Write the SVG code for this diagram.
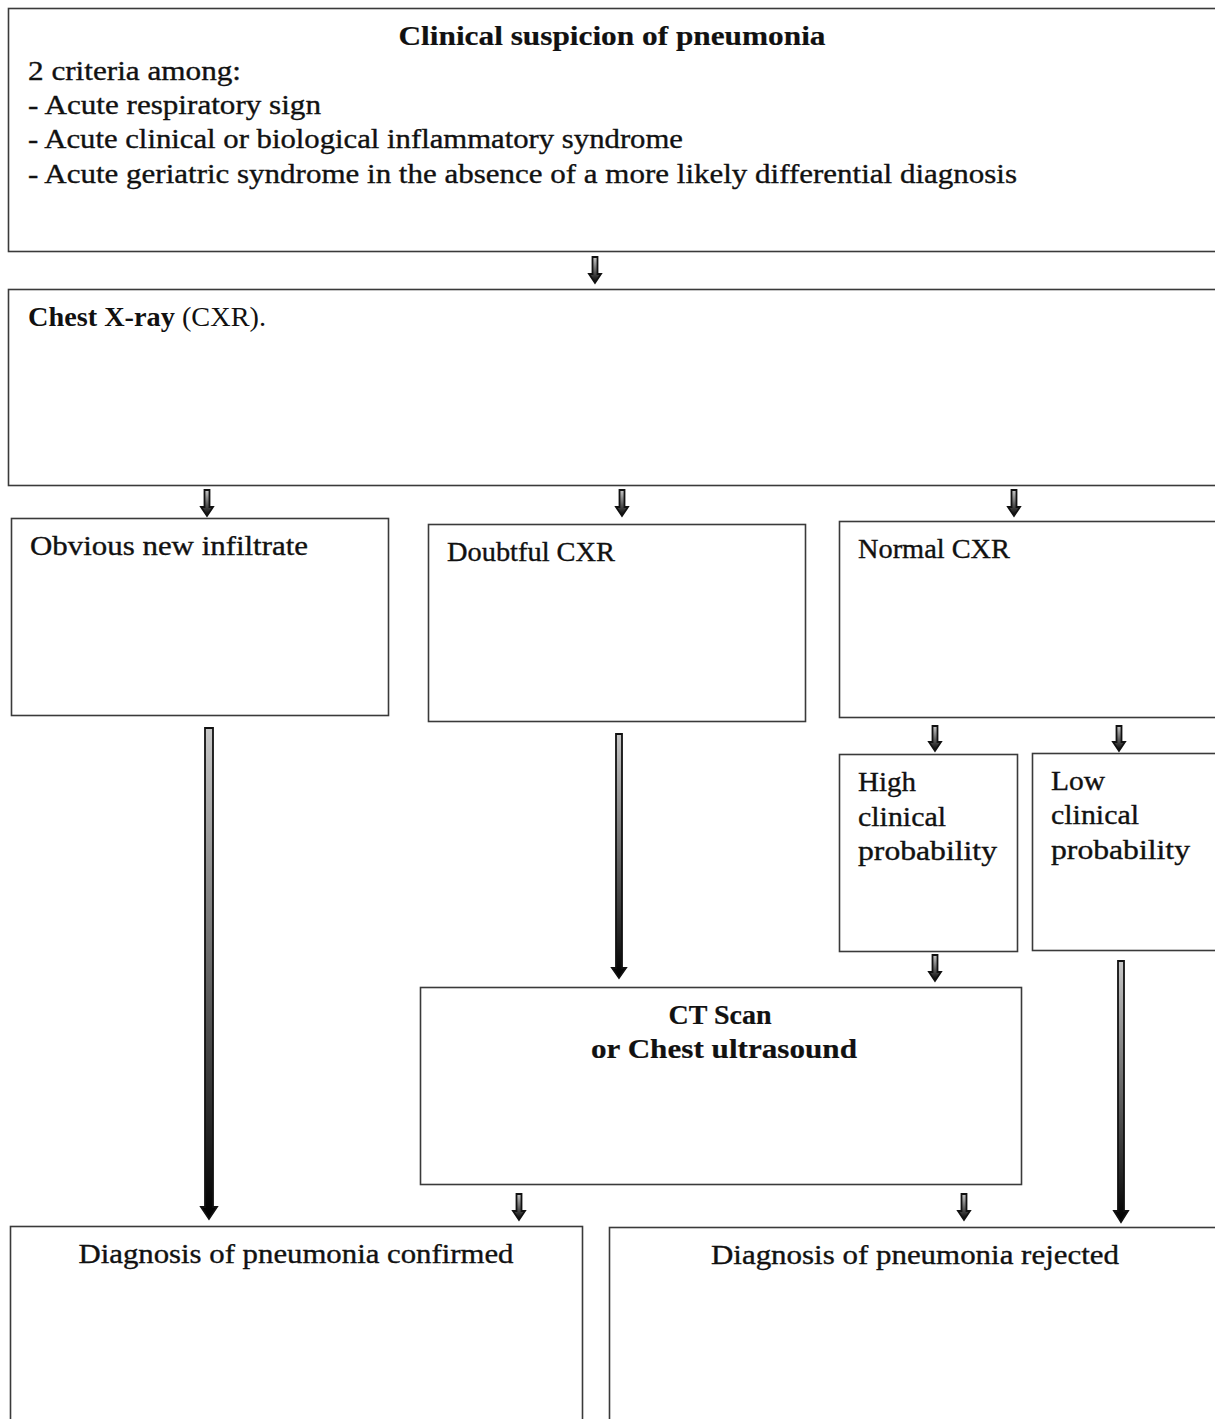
<svg xmlns="http://www.w3.org/2000/svg" width="1215" height="1419" viewBox="0 0 1215 1419">
<defs>
<linearGradient id="ag" x1="0" y1="0" x2="0" y2="1">
<stop offset="0" stop-color="#c8c8c8"/>
<stop offset="1" stop-color="#000"/>
</linearGradient>
<style>
.box{fill:#fff;stroke:#3a3a3a;stroke-width:1.6}
.t{font-family:"Liberation Serif","DejaVu Serif",serif;font-size:27px;fill:#111;stroke:#111;stroke-width:0.35}
.b{font-weight:bold;stroke-width:0.2}
.tm{font-family:"Liberation Serif",serif;font-size:28px;fill:#111}
.arr{fill:url(#ag);stroke:#111;stroke-width:1.8;stroke-linejoin:miter}
</style>
</defs>
<rect width="1215" height="1419" fill="#fff"/>

<g id="n-suspicion">
<rect class="box" x="8.5" y="8.5" width="1210" height="243"/>
<text class="t b" x="612" y="45" text-anchor="middle" textLength="427" lengthAdjust="spacingAndGlyphs">Clinical suspicion of pneumonia</text>
<text class="t" x="28" y="80" textLength="213" lengthAdjust="spacingAndGlyphs">2 criteria among:</text>
<text class="t" x="28" y="114" textLength="293" lengthAdjust="spacingAndGlyphs">- Acute respiratory sign</text>
<text class="t" x="28" y="148" textLength="655" lengthAdjust="spacingAndGlyphs">- Acute clinical or biological inflammatory syndrome</text>
<text class="t" x="28" y="183" textLength="989" lengthAdjust="spacingAndGlyphs">- Acute geriatric syndrome in the absence of a more likely differential diagnosis</text>
</g>

<g id="n-cxr">
<rect class="box" x="8.5" y="289.5" width="1210" height="196"/>
<text class="tm" x="28" y="326" textLength="238" lengthAdjust="spacingAndGlyphs"><tspan font-weight="bold">Chest X-ray</tspan> (CXR).</text>
</g>

<g id="n-obvious">
<rect class="box" x="11.5" y="518.5" width="377" height="197"/>
<text class="t" x="30" y="555" textLength="278" lengthAdjust="spacingAndGlyphs">Obvious new infiltrate</text>
</g>

<g id="n-doubtful">
<rect class="box" x="428.5" y="524.5" width="377" height="197"/>
<text class="t" x="447" y="561" textLength="168" lengthAdjust="spacingAndGlyphs">Doubtful CXR</text>
</g>

<g id="n-normal">
<rect class="box" x="839.5" y="521.5" width="380" height="196"/>
<text class="t" x="858" y="558" textLength="152" lengthAdjust="spacingAndGlyphs">Normal CXR</text>
</g>

<g id="n-high">
<rect class="box" x="839.5" y="754.5" width="178" height="197"/>
<text class="t" x="858" y="791" textLength="58" lengthAdjust="spacingAndGlyphs">High</text>
<text class="t" x="858" y="826" textLength="88" lengthAdjust="spacingAndGlyphs">clinical</text>
<text class="t" x="858" y="860" textLength="139" lengthAdjust="spacingAndGlyphs">probability</text>
</g>

<g id="n-low">
<rect class="box" x="1032.5" y="753.5" width="186" height="197"/>
<text class="t" x="1051" y="790" textLength="54" lengthAdjust="spacingAndGlyphs">Low</text>
<text class="t" x="1051" y="824" textLength="88" lengthAdjust="spacingAndGlyphs">clinical</text>
<text class="t" x="1051" y="859" textLength="139" lengthAdjust="spacingAndGlyphs">probability</text>
</g>

<g id="n-ct">
<rect class="box" x="420.5" y="987.5" width="601" height="197"/>
<text class="t b" x="720" y="1024" text-anchor="middle" textLength="103" lengthAdjust="spacingAndGlyphs">CT Scan</text>
<text class="t b" x="724" y="1058" text-anchor="middle" textLength="266" lengthAdjust="spacingAndGlyphs">or Chest ultrasound</text>
</g>

<g id="n-confirmed">
<rect class="box" x="10.5" y="1226.5" width="572" height="200"/>
<text class="t" x="296" y="1263" text-anchor="middle" textLength="435" lengthAdjust="spacingAndGlyphs">Diagnosis of pneumonia confirmed</text>
</g>

<g id="n-rejected">
<rect class="box" x="609.5" y="1227.5" width="610" height="200"/>
<text class="t" x="915" y="1264" text-anchor="middle" textLength="408" lengthAdjust="spacingAndGlyphs">Diagnosis of pneumonia rejected</text>
</g>

<g id="connectors">
<path class="arr" d="M592.5 257 H597.5 V274 H601 L595 283 L589 274 H592.5 Z"/>
<path class="arr" d="M204.5 490 H209.5 V507 H213 L207 516 L201 507 H204.5 Z"/>
<path class="arr" d="M619.5 490 H624.5 V507 H628 L622 516 L616 507 H619.5 Z"/>
<path class="arr" d="M1011.5 490 H1016.5 V507 H1020 L1014 516 L1008 507 H1011.5 Z"/>
<path class="arr" d="M932.5 726 H937.5 V742 H941 L935 751 L929 742 H932.5 Z"/>
<path class="arr" d="M1116.5 726 H1121.5 V742 H1125 L1119 751 L1113 742 H1116.5 Z"/>
<path class="arr" d="M932.5 955 H937.5 V972 H941 L935 981 L929 972 H932.5 Z"/>
<path class="arr" d="M516.5 1194 H521.5 V1211 H525 L519 1220 L513 1211 H516.5 Z"/>
<path class="arr" d="M961.5 1194 H966.5 V1211 H970 L964 1220 L958 1211 H961.5 Z"/>
<path class="arr" d="M205 728 H213 V1207 H217 L209 1219 L201 1207 H205 Z"/>
<path class="arr" d="M616 734 H622 V968 H626 L619 978 L612 968 H616 Z"/>
<path class="arr" d="M1118 961 H1124 V1211 H1128 L1121 1222 L1114 1211 H1118 Z"/>
</g>
</svg>
